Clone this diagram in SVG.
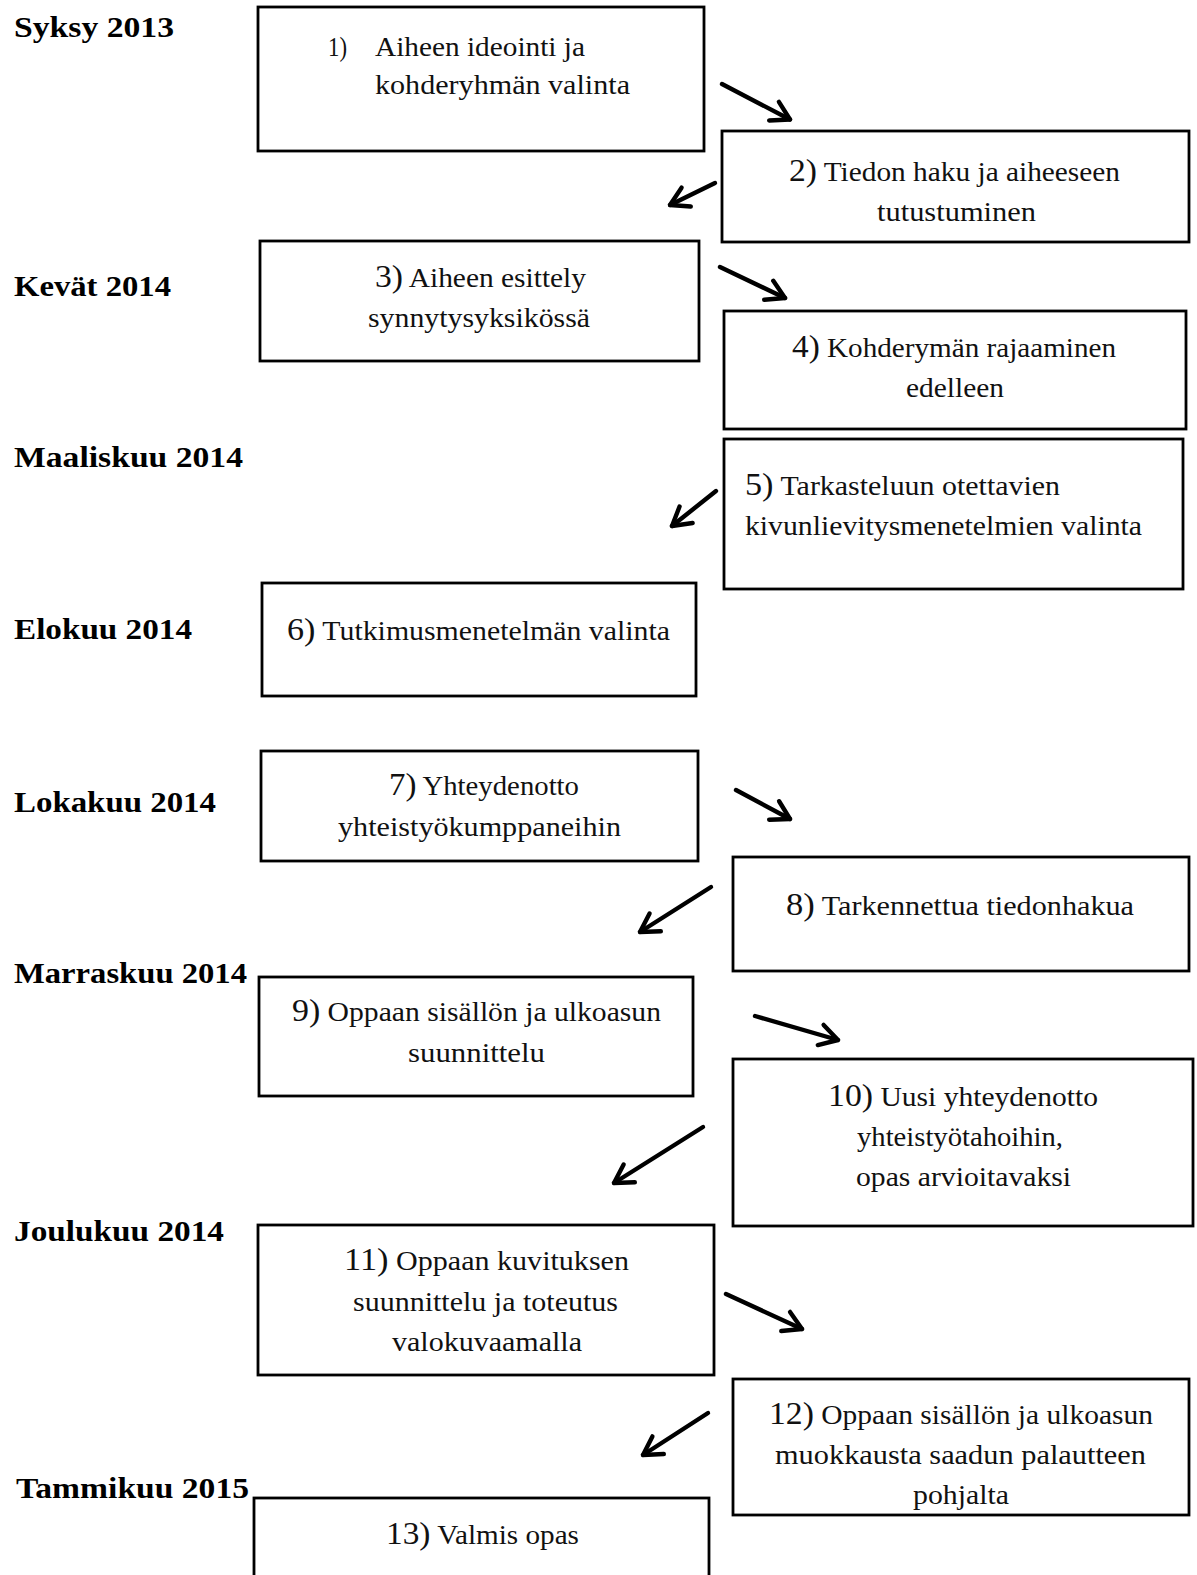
<svg xmlns="http://www.w3.org/2000/svg" width="1197" height="1575" viewBox="0 0 1197 1575">
<style>
.box{fill:#fff;stroke:#000;stroke-width:2.8}
.t{font-family:"Liberation Serif",serif;font-size:28px;fill:#111}
.n{font-size:32px}
.lbl{font-family:"Liberation Serif",serif;font-size:30px;font-weight:bold;fill:#000}
.arr{stroke:#000;stroke-width:4.4;fill:none;stroke-linecap:round;marker-end:url(#ah)}
</style>
<defs>
<marker id="ah" markerUnits="userSpaceOnUse" viewBox="-4 -4 28 29" markerWidth="28" markerHeight="29" refX="18" refY="10.5" orient="auto">
<path d="M0,0 L18,10.5 L0,21" fill="none" stroke="#000" stroke-width="4.4" stroke-linecap="round" stroke-linejoin="round"/>
</marker>
</defs>
<rect width="1197" height="1575" fill="#fff"/>
<g id="labels">
<text class="lbl" x="14" y="37" textLength="160" lengthAdjust="spacingAndGlyphs">Syksy 2013</text>
<text class="lbl" x="14" y="296" textLength="157" lengthAdjust="spacingAndGlyphs">Kevät 2014</text>
<text class="lbl" x="14" y="467" textLength="229" lengthAdjust="spacingAndGlyphs">Maaliskuu 2014</text>
<text class="lbl" x="14" y="639" textLength="178" lengthAdjust="spacingAndGlyphs">Elokuu 2014</text>
<text class="lbl" x="14" y="812" textLength="202" lengthAdjust="spacingAndGlyphs">Lokakuu 2014</text>
<text class="lbl" x="14" y="983" textLength="233" lengthAdjust="spacingAndGlyphs">Marraskuu 2014</text>
<text class="lbl" x="14" y="1241" textLength="210" lengthAdjust="spacingAndGlyphs">Joulukuu 2014</text>
<text class="lbl" x="16" y="1498" textLength="233" lengthAdjust="spacingAndGlyphs">Tammikuu 2015</text>
</g>
<g id="connectors">
<line class="arr" x1="722" y1="84" x2="790" y2="119.5"/>
<line class="arr" x1="715" y1="183" x2="670" y2="205"/>
<line class="arr" x1="720" y1="267" x2="785" y2="298"/>
<line class="arr" x1="716" y1="491" x2="672" y2="526"/>
<line class="arr" x1="736" y1="790" x2="790" y2="819"/>
<line class="arr" x1="711" y1="887" x2="640" y2="932"/>
<line class="arr" x1="755" y1="1016" x2="838" y2="1040"/>
<line class="arr" x1="703" y1="1127" x2="614" y2="1183"/>
<line class="arr" x1="726" y1="1294" x2="802" y2="1329"/>
<line class="arr" x1="708" y1="1413" x2="643" y2="1455"/>
</g>
<g id="node1">
<rect class="box" x="258" y="7" width="446" height="144"/>
<text class="t" x="328" y="56" textLength="19" lengthAdjust="spacingAndGlyphs">1)</text>
<text class="t" x="375" y="56" textLength="210" lengthAdjust="spacingAndGlyphs">Aiheen ideointi ja</text>
<text class="t" x="375" y="94" textLength="255" lengthAdjust="spacingAndGlyphs">kohderyhmän valinta</text>
</g>
<g id="node2">
<rect class="box" x="722" y="131" width="467" height="111"/>
<text class="t" x="789" y="181" textLength="331" lengthAdjust="spacingAndGlyphs"><tspan class="n">2)</tspan> Tiedon haku ja aiheeseen</text>
<text class="t" x="877" y="221" textLength="159" lengthAdjust="spacingAndGlyphs">tutustuminen</text>
</g>
<g id="node3">
<rect class="box" x="260" y="241" width="439" height="120"/>
<text class="t" x="375" y="287" textLength="211" lengthAdjust="spacingAndGlyphs"><tspan class="n">3)</tspan> Aiheen esittely</text>
<text class="t" x="368" y="327" textLength="222" lengthAdjust="spacingAndGlyphs">synnytysyksikössä</text>
</g>
<g id="node4">
<rect class="box" x="724" y="311" width="462" height="118"/>
<text class="t" x="792" y="357" textLength="324" lengthAdjust="spacingAndGlyphs"><tspan class="n">4)</tspan> Kohderymän rajaaminen</text>
<text class="t" x="906" y="397" textLength="98" lengthAdjust="spacingAndGlyphs">edelleen</text>
</g>
<g id="node5">
<rect class="box" x="724" y="439" width="459" height="150"/>
<text class="t" x="745" y="495" textLength="315" lengthAdjust="spacingAndGlyphs"><tspan class="n">5)</tspan> Tarkasteluun otettavien</text>
<text class="t" x="745" y="535" textLength="397" lengthAdjust="spacingAndGlyphs">kivunlievitysmenetelmien valinta</text>
</g>
<g id="node6">
<rect class="box" x="262" y="583" width="434" height="113"/>
<text class="t" x="287" y="640" textLength="383" lengthAdjust="spacingAndGlyphs"><tspan class="n">6)</tspan> Tutkimusmenetelmän valinta</text>
</g>
<g id="node7">
<rect class="box" x="261" y="751" width="437" height="110"/>
<text class="t" x="389" y="795" textLength="190" lengthAdjust="spacingAndGlyphs"><tspan class="n">7)</tspan> Yhteydenotto</text>
<text class="t" x="338" y="836" textLength="283" lengthAdjust="spacingAndGlyphs">yhteistyökumppaneihin</text>
</g>
<g id="node8">
<rect class="box" x="733" y="857" width="456" height="114"/>
<text class="t" x="786" y="915" textLength="348" lengthAdjust="spacingAndGlyphs"><tspan class="n">8)</tspan> Tarkennettua tiedonhakua</text>
</g>
<g id="node9">
<rect class="box" x="259" y="977" width="434" height="119"/>
<text class="t" x="292" y="1021" textLength="369" lengthAdjust="spacingAndGlyphs"><tspan class="n">9)</tspan> Oppaan sisällön ja ulkoasun</text>
<text class="t" x="408" y="1062" textLength="137" lengthAdjust="spacingAndGlyphs">suunnittelu</text>
</g>
<g id="node10">
<rect class="box" x="733" y="1059" width="460" height="167"/>
<text class="t" x="828" y="1106" textLength="270" lengthAdjust="spacingAndGlyphs"><tspan class="n">10)</tspan> Uusi yhteydenotto</text>
<text class="t" x="857" y="1146" textLength="206" lengthAdjust="spacingAndGlyphs">yhteistyötahoihin,</text>
<text class="t" x="856" y="1186" textLength="215" lengthAdjust="spacingAndGlyphs">opas arvioitavaksi</text>
</g>
<g id="node11">
<rect class="box" x="258" y="1225" width="456" height="150"/>
<text class="t" x="344" y="1270" textLength="285" lengthAdjust="spacingAndGlyphs"><tspan class="n">11)</tspan> Oppaan kuvituksen</text>
<text class="t" x="353" y="1311" textLength="265" lengthAdjust="spacingAndGlyphs">suunnittelu ja toteutus</text>
<text class="t" x="392" y="1351" textLength="190" lengthAdjust="spacingAndGlyphs">valokuvaamalla</text>
</g>
<g id="node12">
<rect class="box" x="733" y="1379" width="456" height="136"/>
<text class="t" x="769" y="1424" textLength="384" lengthAdjust="spacingAndGlyphs"><tspan class="n">12)</tspan> Oppaan sisällön ja ulkoasun</text>
<text class="t" x="775" y="1464" textLength="371" lengthAdjust="spacingAndGlyphs">muokkausta saadun palautteen</text>
<text class="t" x="913" y="1504" textLength="96" lengthAdjust="spacingAndGlyphs">pohjalta</text>
</g>
<g id="node13">
<rect class="box" x="254" y="1498" width="455" height="95"/>
<text class="t" x="386" y="1544" textLength="193" lengthAdjust="spacingAndGlyphs"><tspan class="n">13)</tspan> Valmis opas</text>
</g>
</svg>
